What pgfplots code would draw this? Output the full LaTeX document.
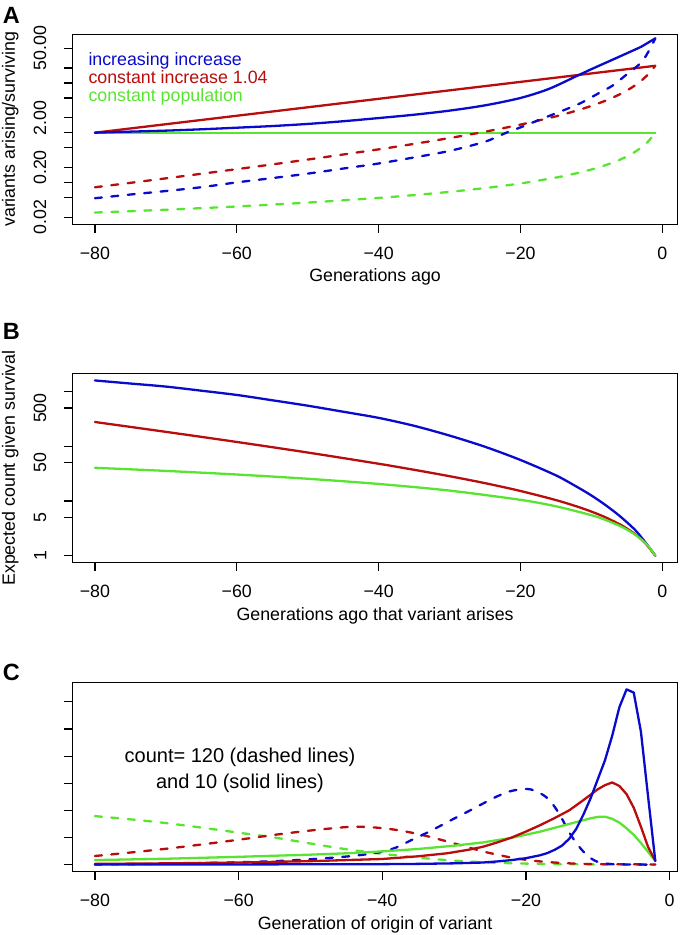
\documentclass[border=0pt]{standalone}
\usepackage{fontspec}
\setmainfont{Liberation Sans}
\usepackage{pgfplots}
\pgfplotsset{compat=1.18}

\definecolor{cblue}{RGB}{10,10,205}
\definecolor{cred}{RGB}{185,12,12}
\definecolor{cgreen}{RGB}{90,228,50}
\newcommand\fs{\fontsize{17.8}{21}\selectfont}

\pgfplotsset{
  panel/.style={
    scale only axis, width=605.2pt, anchor=south west,
    axis line style={draw=black, line width=1.2pt},
    every tick/.style={line width=1.2pt, black},
    tick align=outside, major tick length=8.5pt,
    tick pos=left,
    xtick={-80,-60,-40,-20,0},
    xticklabels={−80,−60,−40,−20,0},
    xticklabel style={font=\fs, inner sep=0pt, anchor=north},
    xticklabel shift=14pt,
    yticklabel style={font=\fs, inner sep=0pt, rotate=90, anchor=south},
    yticklabel shift=17.5pt,
    every axis plot/.append style={line width=2.3pt, line join=round, line cap=round},
  },
  dsh/.style={dash pattern=on 7pt off 9.5pt},
}

\begin{document}
\begin{tikzpicture}
\path (0pt,0pt) -- (680pt,0pt) -- (680pt,935pt) -- (0pt,935pt) -- cycle;

% ---------------- A
\begin{axis}[panel, at={(72.5pt,710.7pt)}, height=190pt,
  ymode=log, xmin=-83.16, xmax=2.16, ymin=0.01435, ymax=95.5,
  ytick={0.02,0.05,0.1,0.2,0.5,1,2,5,10,20,50},
  yticklabels={0.02,,,0.20,,,2.00,,,,50.00}]
\addplot[cgreen] coordinates {(-80,1) (-1,1)};
\addplot[cred] coordinates {(-80,1) (-1,22.18)};
\addplot[cblue, smooth] coordinates {
 (-80,1) (-75,1.05) (-70,1.10) (-65,1.17) (-60,1.26) (-55,1.36) (-50,1.50)
 (-45,1.70) (-40,1.97) (-35,2.30) (-30,2.78) (-25,3.55) (-20,5.0) (-16,7.6)
 (-12,14.0) (-10,19.0) (-8,25.5) (-6,34.2) (-4,46) (-3,53.5) (-2,65) (-1,79)};
\addplot[cgreen, dsh, smooth] coordinates {
 (-80,0.02469) (-70,0.02817) (-60,0.03279) (-50,0.03922) (-40,0.04878)
 (-35,0.05556) (-30,0.06452) (-25,0.07692) (-20,0.09524) (-15,0.125)
 (-12,0.1538) (-10,0.1818) (-8,0.2222) (-6,0.2857) (-5,0.3333) (-4,0.4)
 (-3,0.5) (-2,0.6667) (-1,1)};
\addplot[cred, dsh, smooth] coordinates {
 (-80,0.0797) (-70,0.1206) (-60,0.1847) (-50,0.288) (-40,0.462) (-35,0.596)
 (-30,0.780) (-25,1.047) (-20,1.454) (-15,2.135) (-12,2.807) (-10,3.464)
 (-8,4.418) (-6,5.926) (-5,7.061) (-4,8.656) (-3,11.05) (-2,15.04) (-1,22.18)};
\addplot[cblue, dsh, smooth] coordinates {
 (-80,0.048) (-75,0.057) (-70,0.067) (-65,0.08) (-60,0.1) (-55,0.122)
 (-50,0.15) (-45,0.19) (-40,0.24) (-35,0.318) (-30,0.43) (-25,0.66)
 (-22,1.0) (-20,1.28) (-17,1.9) (-14,2.8) (-11.5,3.95) (-9,6.2) (-7,8.9)
 (-5,15) (-3,25.7) (-2,42) (-1,79)};
\end{axis}

% ---------------- B
\begin{axis}[panel, at={(72.5pt,372.3pt)}, height=189.4pt,
  ymode=log, xmin=-83.16, xmax=2.16, ymin=0.745, ymax=2163,
  ytick={1,5,10,50,100,500,1000},
  yticklabels={1,5,,50,,500,}]
\addplot[cblue, smooth] coordinates {
 (-80,1600) (-75,1406) (-70,1236) (-65,1040) (-60,869) (-55,695) (-50,553)
 (-45,429) (-40,331) (-35,237) (-30,157) (-25,98) (-20,56.2) (-15,29.4)
 (-12,18.0) (-10,12.6) (-8,8.4) (-6,5.3) (-4,3.1) (-3,2.2) (-2,1.5) (-1,1)};
\addplot[cred, smooth] coordinates {
 (-80,278.3) (-70,183.9) (-60,120.1) (-50,77.0) (-40,48.0) (-35,37.2)
 (-30,28.4) (-25,21.2) (-20,15.25) (-15,10.39) (-12,7.90) (-10,6.40)
 (-8,5.02) (-6,3.74) (-5,3.14) (-4,2.56) (-3,2.01) (-2,1.475) (-1,1)};
\addplot[cgreen, smooth] coordinates {
 (-80,40.5) (-70,35.5) (-60,30.5) (-50,25.5) (-40,20.5) (-30,15.5) (-20,10.5)
 (-15,8) (-10,5.5) (-8,4.5) (-6,3.5) (-5,3) (-4,2.5) (-3,2) (-2,1.5) (-1,1)};
\end{axis}

% ---------------- C
\begin{axis}[panel, at={(72.5pt,63.3pt)}, height=189.4pt,
  xmin=-83.12, xmax=1.12, ymin=-0.258, ymax=6.72,
  ytick={0,1,2,3,4,5,6}, yticklabels={,,,,,,}]
\addplot[cgreen, dsh, smooth] coordinates {
 (-80,1.79) (-75,1.67) (-70,1.53) (-65,1.36) (-60,1.18) (-55,1.0) (-50,0.78)
 (-45,0.57) (-40,0.4) (-35,0.26) (-30,0.15) (-25,0.08) (-20,0.04) (-15,0.02)
 (-10,0.01) (-2,0.0)};
\addplot[cred, dsh, smooth] coordinates {
 (-80,0.32) (-75,0.45) (-70,0.59) (-65,0.75) (-60,0.92) (-55,1.1) (-50,1.26)
 (-47,1.34) (-44,1.4) (-41,1.37) (-38,1.28) (-35,1.13) (-32,0.93) (-29,0.71)
 (-26,0.49) (-24,0.37) (-22,0.26) (-20,0.18) (-18,0.12) (-16,0.08) (-14,0.05)
 (-12,0.03) (-10,0.02) (-2,0.01)};
\addplot[cblue, dsh, smooth] coordinates {
 (-80,0.01) (-75,0.02) (-70,0.035) (-65,0.06) (-60,0.09) (-55,0.13) (-50,0.2)
 (-45,0.3) (-42,0.39) (-40,0.48) (-38,0.64) (-36,0.9) (-34,1.15) (-32,1.42)
 (-30,1.7) (-28,1.97) (-26,2.25) (-24,2.52) (-22,2.72) (-20,2.79) (-19,2.75)
 (-18,2.63) (-17,2.45) (-16,2.13) (-15,1.7) (-14,1.2) (-13,0.8) (-12,0.48)
 (-11,0.24) (-10,0.1) (-9,0.05) (-8,0.02) (-6,0.01) (-2,0.0)};
\addplot[cgreen] coordinates {
 (-80,0.17) (-70,0.22) (-60,0.29) (-50,0.37) (-45,0.42) (-40,0.49) (-35,0.58)
 (-30,0.7) (-26,0.82) (-22,0.99) (-18,1.22) (-15,1.43) (-13,1.57) (-12,1.64)
 (-11,1.71) (-10,1.76) (-9,1.77) (-8,1.69) (-7,1.55) (-6,1.34) (-5,1.1)
 (-4,0.8) (-3,0.47) (-2,0.14)};
\addplot[cred] coordinates {
 (-80,0.03) (-70,0.05) (-60,0.08) (-50,0.13) (-45,0.17) (-40,0.21) (-35,0.31)
 (-31,0.42) (-28,0.55) (-26,0.66) (-24,0.82) (-22,1.0) (-20,1.22) (-18,1.46)
 (-16,1.72) (-14,2.0) (-12,2.38) (-10,2.78) (-9,2.93) (-8,3.03) (-7,2.9)
 (-6,2.6) (-5,2.1) (-4,1.4) (-3,0.65) (-2,0.14)};
\addplot[cblue] coordinates {
 (-80,0.005) (-60,0.01) (-40,0.02) (-35,0.03) (-30,0.05) (-26,0.08) (-24,0.12)
 (-22,0.17) (-20,0.24) (-18,0.35) (-17,0.43) (-16,0.55) (-15,0.7) (-14,0.95)
 (-13,1.32) (-12,1.85) (-11,2.45) (-10,3.15) (-9,3.85) (-8,4.75) (-7,5.8)
 (-6,6.46) (-5,6.34) (-4,4.9) (-3,2.5) (-2,0.14)};
\end{axis}

% ---------------- texts
\node[anchor=base west, inner sep=0pt, font=\fontsize{23.5}{26}\selectfont\bfseries] at (2.7pt,911.7pt) {A};
\node[anchor=base west, inner sep=0pt, font=\fontsize{23.5}{26}\selectfont\bfseries] at (2.7pt,595.7pt) {B};
\node[anchor=base west, inner sep=0pt, font=\fontsize{23.5}{26}\selectfont\bfseries] at (2.7pt,254pt) {C};

\node[anchor=base west, inner sep=0pt, font=\fs, text=cblue] at (88.3pt,869pt) {increasing increase};
\node[anchor=base west, inner sep=0pt, font=\fs, text=cred] at (88.3pt,851.1pt) {constant increase 1.04};
\node[anchor=base west, inner sep=0pt, font=\fs, text=cgreen] at (88.3pt,833.2pt) {constant population};

\node[anchor=base, inner sep=0pt, font=\fs] at (375.1pt,653.3pt) {Generations ago};
\node[anchor=base, inner sep=0pt, font=\fs] at (375.1pt,314.9pt) {Generations ago that variant arises};
\node[anchor=base, inner sep=0pt, font=\fs] at (375.1pt,5.9pt) {Generation of origin of variant};

\node[anchor=base, inner sep=0pt, font=\fs, rotate=90] at (15pt,805.7pt) {variants arising/surviving};
\node[anchor=base, inner sep=0pt, font=\fs, rotate=90] at (15pt,467pt) {Expected count given survival};

\node[anchor=base, inner sep=0pt, font=\fontsize{20}{24}\selectfont] at (240pt,172.7pt) {count= 120 (dashed lines)};
\node[anchor=base, inner sep=0pt, font=\fontsize{20}{24}\selectfont] at (240pt,146.7pt) {and 10 (solid lines)};
\end{tikzpicture}
\end{document}
